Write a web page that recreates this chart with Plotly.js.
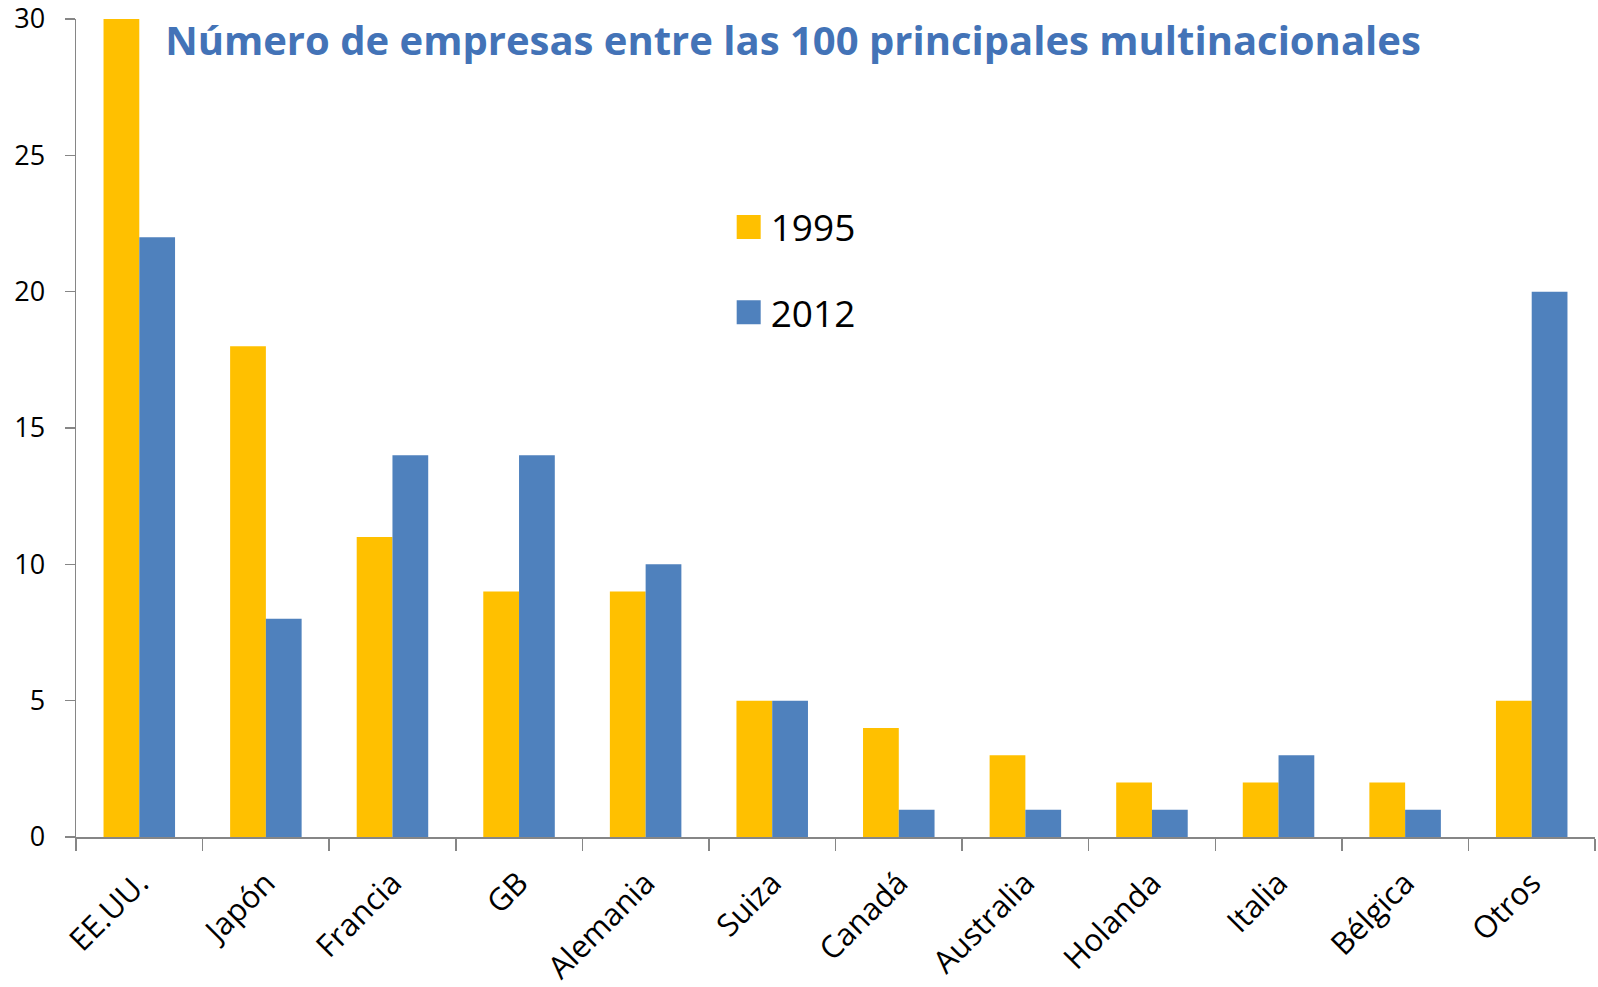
<!DOCTYPE html>
<html>
<head>
<meta charset="utf-8">
<script src="https://cdn.plot.ly/plotly-3.0.1.min.js"></script>
<style>
html,body{margin:0;padding:0;background:#fff;}
#chart{width:1598px;height:987px;}
</style>
</head>
<body>
<div id="chart"></div>
<script>
const categories = ["EE.UU.", "Japón", "Francia", "GB", "Alemania", "Suiza", "Canadá", "Australia", "Holanda", "Italia", "Bélgica", "Otros"];
const values1995 = [30, 18, 11, 9, 9, 5, 4, 3, 2, 2, 2, 5];
const values2012 = [22, 8, 14, 14, 10, 5, 1, 1, 1, 3, 1, 20];
const yTicks = [0, 5, 10, 15, 20, 25, 30];
const titleText = "Número de empresas entre las 100 principales multinacionales";

const FONT = "Open Sans, Noto Sans, sans-serif";

const traces = [
  {type: "bar", name: "1995", x: categories, y: values1995,
   marker: {color: "#FFC000", line: {width: 0}}, legendgroup: "a"},
  {type: "bar", name: "2012", x: categories, y: values2012,
   marker: {color: "#4F81BD", line: {width: 0}}, legendgroup: "b"}
];

const layout = {
  width: 1598, height: 987,
  margin: {l: 76, r: 3, t: 19, b: 150},
  paper_bgcolor: "#ffffff", plot_bgcolor: "#ffffff",
  font: {family: FONT, color: "#000000"},
  barmode: "group",
  bargap: 0.435,
  bargroupgap: 0,
  title: {
    text: "<b>" + titleText + "</b>",
    font: {family: FONT, size: 40, color: "#4373B7"},
    xref: "paper", x: 0.472, xanchor: "center",
    yref: "container", y: 0.958, yanchor: "middle"
  },
  showlegend: true,
  legend: {
    x: 0.431, xanchor: "left",
    y: 0.783, yanchor: "top",
    traceorder: "grouped",
    tracegroupgap: 34,
    font: {family: FONT, size: 37, color: "#000000"},
    bgcolor: "rgba(0,0,0,0)",
    itemclick: false
  },
  xaxis: {
    type: "category",
    tickangle: -45,
    tickfont: {family: FONT, size: 31, color: "#000000"},
    ticklabelstandoff: 14,
    ticklabeloverflow: "allow",
    showline: true, linecolor: "#868686", linewidth: 1.5,
    ticks: "outside", tickson: "boundaries", ticklen: 12, tickcolor: "#868686", tickwidth: 1.5,
    showgrid: false, zeroline: false
  },
  yaxis: {
    range: [0, 30],
    tickvals: yTicks,
    ticktext: yTicks.map(String),
    tickfont: {family: FONT, size: 27, color: "#000000"},
    ticklabelstandoff: 14,
    ticklabeloverflow: "allow",
    showline: true, linecolor: "#868686", linewidth: 1.5,
    ticks: "outside", ticklen: 10, tickcolor: "#868686", tickwidth: 1.5,
    showgrid: false, zeroline: false
  }
};

Plotly.newPlot("chart", traces, layout, {displayModeBar: false, staticPlot: true}).then(function (gd) {
  // enlarge legend swatches to match the reference's larger squares
  gd.querySelectorAll(".legend .legendpoints path").forEach(function (p) {
    p.setAttribute("d", "M10,12H-14V-12H10Z");
  });
});
</script>
</body>
</html>
